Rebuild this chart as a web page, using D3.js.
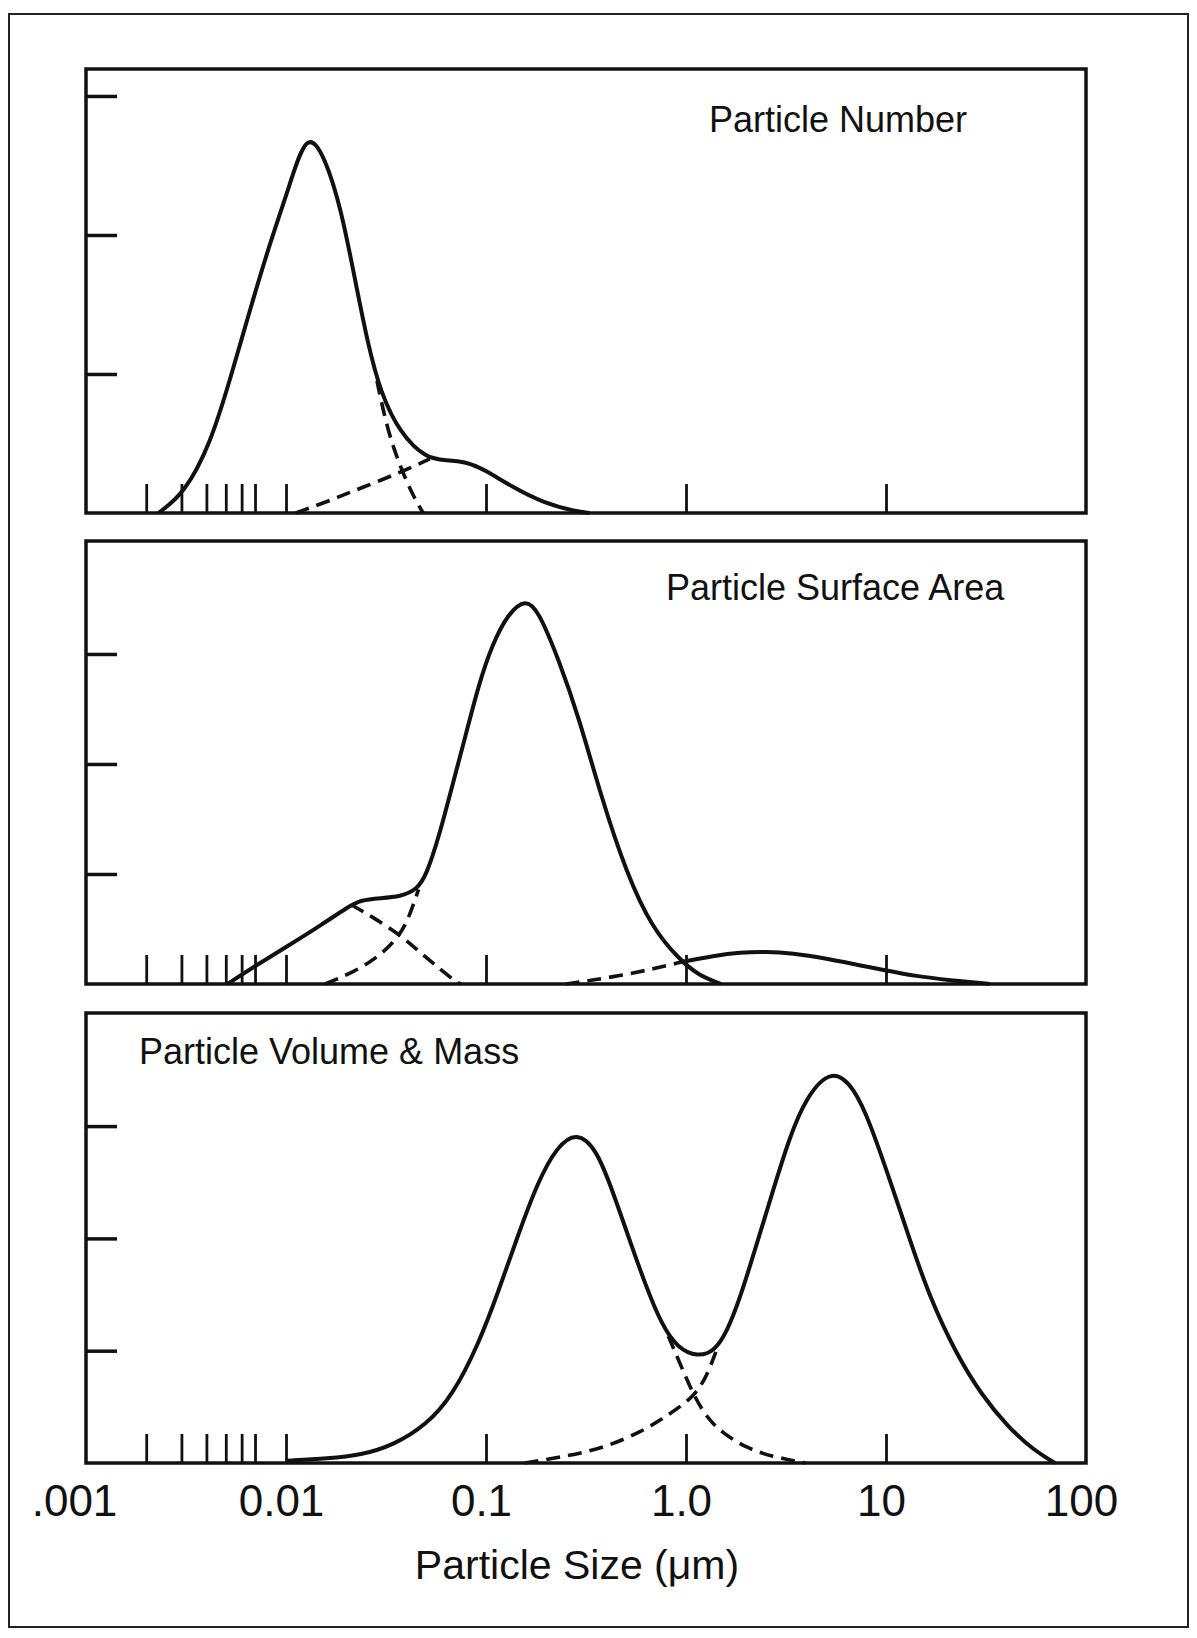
<!DOCTYPE html>
<html>
<head>
<meta charset="utf-8">
<script src="https://cdn.jsdelivr.net/npm/d3@7"></script>
<style>
  body { margin: 0; background: #fff; }
  text { font-family: "Liberation Sans", Arial, sans-serif; fill: #111; }
</style>
</head>
<body>
<div class="chart"></div>
<script>
// particle size (um) vs relative amount
const numberTotal = [[0.0023,0],[0.0031,0.14],[0.0042,0.50],[0.0053,0.98],[0.0066,1.46],[0.0083,1.94],
  [0.0104,2.35],[0.0127,2.76],[0.0157,2.56],[0.0189,2.18],[0.022,1.70],[0.0256,1.22],[0.0298,0.86],
  [0.0373,0.57],[0.0504,0.39],[0.0631,0.38],[0.0791,0.37],[0.099,0.31],[0.134,0.19],[0.195,0.07],
  [0.284,0.01],[0.33,0]];
const numberFine = [[0.0285,0.95],[0.0321,0.60],[0.0373,0.33],[0.0433,0.12],[0.0485,0]];
const numberCoarse = [[0.0112,0],[0.0166,0.09],[0.0237,0.18],[0.0371,0.29],[0.0524,0.39]];

const surfaceTotal = [[0.0051,0],[0.0071,0.17],[0.0104,0.355],[0.0151,0.54],[0.0204,0.70],[0.0237,0.765],
  [0.0297,0.78],[0.0373,0.795],[0.045,0.855],[0.0504,0.99],[0.0585,1.355],[0.068,1.81],[0.0791,2.26],
  [0.0919,2.72],[0.107,3.08],[0.129,3.37],[0.158,3.50],[0.182,3.40],[0.231,2.95],[0.294,2.40],
  [0.374,1.72],[0.505,1.0],[0.682,0.5],[0.92,0.23],[1.15,0.08],[1.5,0]];
const surfaceFine = [[0.0212,0.72],[0.0276,0.60],[0.0373,0.445],[0.0467,0.29],[0.0585,0.14],[0.0706,0.02],[0.075,0]];
const surfaceAcc = [[0.0157,0],[0.022,0.11],[0.0297,0.26],[0.0373,0.445],[0.0417,0.63],[0.046,0.86]];
const surfaceCoarseDash = [[0.25,0],[0.33,0.03],[0.48,0.08],[0.70,0.14],[0.95,0.2]];
const surfaceCoarse = [[0.95,0.2],[1.38,0.257],[1.865,0.288],[2.52,0.294],[3.40,0.279],[4.96,0.234],
  [7.23,0.173],[9.76,0.127],[14.2,0.07],[20.7,0.035],[33,0]];

const massTotal = [[0.01,0.02],[0.0163,0.04],[0.0237,0.07],[0.0346,0.16],[0.0504,0.34],[0.068,0.60],
  [0.0919,1.06],[0.115,1.52],[0.144,2.02],[0.181,2.50],[0.2267,2.82],[0.284,2.95],[0.356,2.80],
  [0.43,2.42],[0.519,2.0],[0.627,1.585],[0.756,1.23],[0.912,1.02],[1.143,0.947],[1.38,0.99],
  [1.606,1.17],[1.865,1.47],[2.25,1.94],[2.716,2.42],[3.28,2.89],[3.96,3.25],[5.35,3.52],[6.96,3.34],
  [8.39,3.01],[10.5,2.51],[13.2,1.98],[16.5,1.48],[22.3,0.98],[30.2,0.60],[40.8,0.32],[55.1,0.11],[70,0]];
const massFine = [[0.815,1.13],[0.947,0.86],[1.10,0.59],[1.28,0.40],[1.49,0.28],[2.01,0.13],[2.72,0.056],[3.96,0]];
const massCoarse = [[0.156,0],[0.2445,0.056],[0.384,0.131],[0.603,0.279],[0.815,0.427],[1.10,0.59],[1.28,0.784],[1.43,1.02]];

const sizeTicks = [0.002,0.003,0.004,0.005,0.006,0.007,0.01,0.1,1,10];
const sizeLabels = [0.001,0.01,0.1,1,10,100];
const sizeLabelText = [".001","0.01","0.1","1.0","10","100"];
const unitTicks = [1,2,3];
const panelTitles = ["Particle Number","Particle Surface Area","Particle Volume & Mass"];

const width = 1197, height = 1638;
const left = 86, right = 1086;

const panels = [
  {title: panelTitles[0], top: 69, bottom: 513, yMax: 3.194, tx: 709, ty: 132,
   solid: [numberTotal], dashed: [numberFine, numberCoarse]},
  {title: panelTitles[1], top: 541, bottom: 984, yMax: 4.027, tx: 666, ty: 600,
   solid: [surfaceTotal, surfaceCoarse], dashed: [surfaceFine, surfaceAcc, surfaceCoarseDash]},
  {title: panelTitles[2], top: 1013, bottom: 1463, yMax: 4.007, tx: 139, ty: 1064,
   solid: [massTotal], dashed: [massFine, massCoarse]}
];

const svg = d3.select(".chart").append("svg")
  .attr("width", width)
  .attr("height", height);

// outer frame
svg.append("rect")
  .attr("x", 9).attr("y", 14)
  .attr("width", 1179).attr("height", 1613)
  .attr("fill", "none").attr("stroke", "#222").attr("stroke-width", 2);

const x = d3.scaleLog().domain([0.001, 100]).range([left, right]);

panels.forEach((p, i) => {
  const y = d3.scaleLinear().domain([0, p.yMax]).range([p.bottom, p.top]);
  const g = svg.append("g");

  const line = d3.line()
    .x(d => x(d[0]))
    .y(d => y(d[1]))
    .curve(d3.curveBasis);

  // inner ticks on left side
  g.append("g")
    .attr("transform", `translate(${left},0)`)
    .call(d3.axisRight(y).tickValues(unitTicks).tickSize(31).tickFormat(""))
    .call(a => a.select(".domain").remove())
    .selectAll("line").attr("stroke", "#111").attr("stroke-width", 3.5);

  // inner ticks along the bottom
  g.append("g")
    .attr("transform", `translate(0,${p.bottom})`)
    .call(d3.axisTop(x).tickValues(sizeTicks).tickSize(29).tickFormat(""))
    .call(a => a.select(".domain").remove())
    .selectAll("line").attr("stroke", "#111").attr("stroke-width", 2.8);

  g.selectAll(".dash")
    .data(p.dashed)
    .join("path")
    .attr("class", "dash")
    .attr("d", line)
    .attr("fill", "none")
    .attr("stroke", "#111")
    .attr("stroke-width", 3.6)
    .attr("stroke-dasharray", "14,8");

  g.selectAll(".solid")
    .data(p.solid)
    .join("path")
    .attr("class", "solid")
    .attr("d", line)
    .attr("fill", "none")
    .attr("stroke", "#111")
    .attr("stroke-width", 4)
    .attr("stroke-linejoin", "round");

  g.append("rect")
    .attr("x", left).attr("y", p.top)
    .attr("width", right - left).attr("height", p.bottom - p.top)
    .attr("fill", "none").attr("stroke", "#111").attr("stroke-width", 3.5);

  g.append("text")
    .attr("x", p.tx).attr("y", p.ty)
    .attr("font-size", 36)
    .text(p.title);

  if (i === panels.length - 1) {
    const xAxis = g.append("g")
      .attr("transform", `translate(0,${p.bottom})`)
      .call(d3.axisBottom(x).tickValues(sizeLabels).tickSize(0).tickPadding(12)
        .tickFormat((d, k) => sizeLabelText[k]));
    xAxis.select(".domain").remove();
    xAxis.selectAll("text")
      .attr("font-size", 44)
      .attr("font-family", "'Liberation Sans', Arial, sans-serif")
      .attr("fill", "#111")
      .attr("dy", null)
      .attr("dx", (d, k) => k === 0 ? -12 : -5)
      .attr("y", 53);
  }
});

svg.append("text")
  .attr("x", 577).attr("y", 1579)
  .attr("text-anchor", "middle")
  .attr("font-size", 41)
  .text("Particle Size (\u03bcm)");
</script>
</body>
</html>
